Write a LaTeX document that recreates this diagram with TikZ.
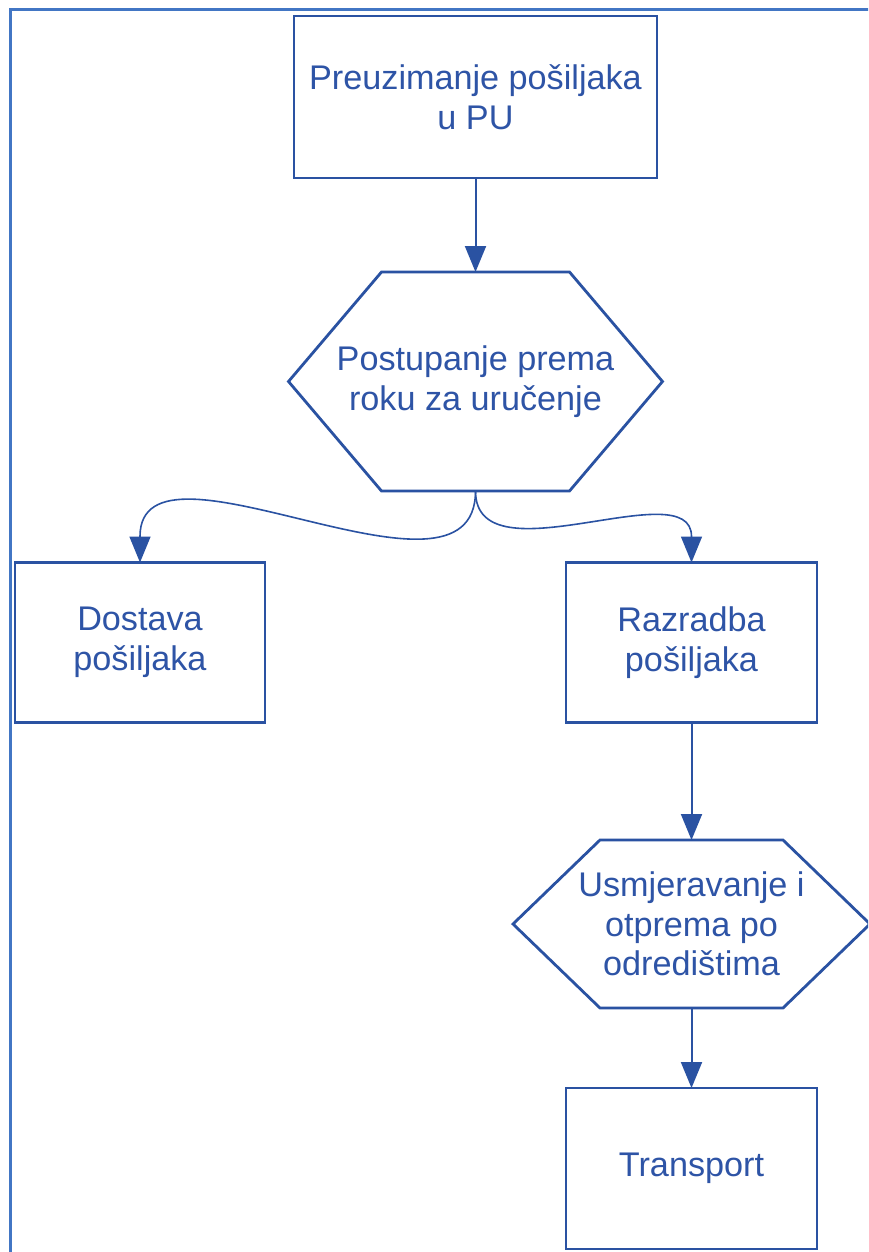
\documentclass[tikz,border=0pt]{standalone}
\usepackage{fontspec}
\setmainfont{Liberation Sans}
\usetikzlibrary{arrows.meta,calc}
\definecolor{lineblue}{RGB}{42,82,162}
\definecolor{textblue}{RGB}{46,84,166}
\definecolor{frameblue}{RGB}{66,118,196}
\begin{document}
\begin{tikzpicture}[x=1pt,y=-1pt,
  procbox/.style={draw=lineblue, line width=2.8pt, text=textblue, align=center,
    font=\fontsize{34.2}{39.5}\selectfont, inner sep=0pt, outer sep=0pt},
  hexnode/.style={text=textblue, align=center,
    font=\fontsize{34.2}{39.5}\selectfont, inner sep=0pt, outer sep=0pt},
  hexline/.style={draw=lineblue, line width=2.8pt, line join=miter},
  conn/.style={draw=lineblue, line width=2pt, -{Triangle[length=26pt,width=21pt]}},
  curveconn/.style={conn, line width=1.6pt}]
\useasboundingbox (0,0) rectangle (868,1252);
\clip (0,0) rectangle (868,1252);
\fill[white] (0,0) rectangle (868,1252);
\draw[frameblue, line width=3pt] (10,1300) -- (10,10) -- (900,10);

\node[procbox, minimum width=363pt, minimum height=162pt] (pre) at (475.5,97) {Preuzimanje pošiljaka\\u PU};
\node[hexnode, minimum width=374pt, minimum height=219pt] (post) at (475.5,381.5) {Postupanje prema\\roku za uručenje};
\node[procbox, minimum width=250pt, minimum height=160pt] (dost) at (140,642.5) {Dostava\\pošiljaka};
\node[procbox, minimum width=251pt, minimum height=160pt] (razr) at (691.5,642.5) {Razradba\\pošiljaka};
\node[hexnode, minimum width=357pt, minimum height=168pt] (usmj) at (691.5,924) {Usmjeravanje i\\otprema po\\odredištima};
\node[procbox, minimum width=251pt, minimum height=161pt] (trans) at (691.5,1168.5) {Transport};

\draw[hexline] ($(post.north west)+(93,0)$) -- ($(post.north east)+(-93,0)$) -- (post.east)
  -- ($(post.south east)+(-93,0)$) -- ($(post.south west)+(93,0)$) -- (post.west) -- cycle;
\draw[hexline] ($(usmj.north west)+(87,0)$) -- ($(usmj.north east)+(-87,0)$) -- (usmj.east)
  -- ($(usmj.south east)+(-87,0)$) -- ($(usmj.south west)+(87,0)$) -- (usmj.west) -- cycle;

\coordinate (dbase) at ($(dost.north)+(0,-26)$);
\coordinate (rbase) at ($(razr.north)+(0,-26)$);

\draw[conn] (pre.south) -- (post.north);
\draw[curveconn] (post.south) .. controls ($(post.south)+(0,136)$) and ($(dbase)+(0,-117)$) .. (dbase) -- (dost.north);
\draw[curveconn] (post.south) .. controls ($(post.south)+(0,91)$) and ($(rbase)+(0,-66)$) .. (rbase) -- (razr.north);
\draw[conn] (razr.south) -- (usmj.north);
\draw[conn] (usmj.south) -- (trans.north);
\end{tikzpicture}
\end{document}
